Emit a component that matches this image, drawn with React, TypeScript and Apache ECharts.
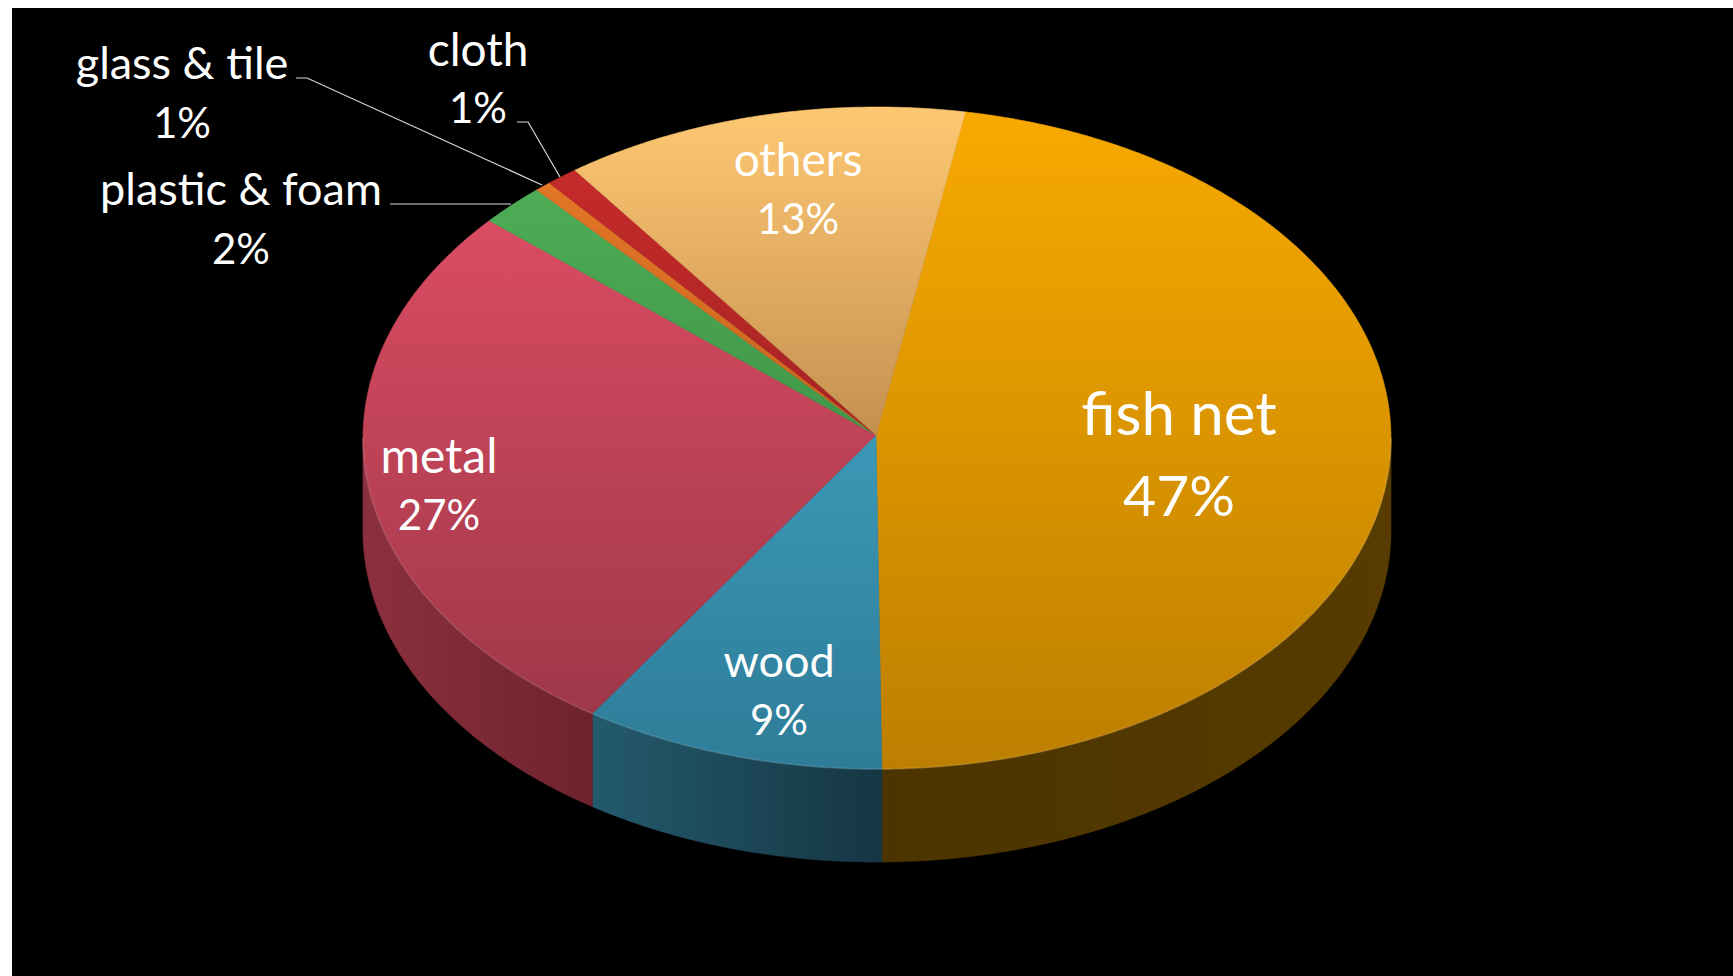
import React, { useEffect, useRef } from "react";
import * as echarts from "echarts";

// Estimated shares; labels show them rounded.
const categories = ["fish net", "wood", "metal", "plastic & foam", "glass & tile", "cloth", "others"];
const shares = [47.1, 9.49, 27.06, 2.08, 0.52, 1.0, 12.75];

const topColors = [
  ["#f8aa00", "#bd7f00"],
  ["#48b4d4", "#2e7c98"],
  ["#e85068", "#983646"],
  ["#52b45a", "#2f7838"],
  ["#ea7a28", "#a8521a"],
  ["#cc2c2c", "#801a1a"],
  ["#fec872", "#8a5830"],
];
const sideColors = [
  ["#4c3400", "#573b00"],
  ["#235a6c", "#163644"],
  ["#8c303e", "#6e222e"],
  ["#333", "#333"],
  ["#333", "#333"],
  ["#333", "#333"],
  ["#333", "#333"],
];

const nameAt = [[1179, 412], [779, 660], [439, 454], [241, 188], [182, 62], [478, 48], [798, 158]];
const pctAt = [[1179, 494], [779, 719], [439, 514], [241, 248], [182, 122], [478, 107], [798, 218]];
const nameSizes = [60, 45, 48, 45, 45, 46, 46];
const pctSizes = [57, 42, 42, 42, 42, 42, 42];
const leaders: Record<number, number[][]> = {
  3: [[390, 204], [511, 204]],
  4: [[296, 78], [307, 78], [542, 185]],
  5: [[517, 122], [528, 122], [560, 177]],
};

const START = 9.9;
const CX = 877;
const CY = 438;
const RX = 514;
const RY = 331;
const DEPTH = 93;
const APEX = [876, 435];
const TOP_Y = 107;
const BOTTOM_Y = 767;
const FONT = "Lato";

const rim = (t: number, dy = 0) => {
  const r = (t * Math.PI) / 180;
  return [CX + RX * Math.sin(r), CY - RY * Math.cos(r) + dy];
};
const arc = (a: number, b: number, dy = 0) => {
  const pts: number[][] = [];
  const n = Math.max(2, Math.ceil(Math.abs(b - a) * 2));
  for (let i = 0; i <= n; i++) pts.push(rim(a + ((b - a) * i) / n, dy));
  return pts;
};
const total = shares.reduce((s, v) => s + v, 0);

const renderItem = (params: any, api: any) => {
  const i = params.dataIndex;
  let before = 0;
  for (let k = 0; k < i; k++) before += shares[k];
  const a = START + (before / total) * 360;
  const b = a + (api.value(0) / total) * 360;
  const children: any[] = [];

  // visible outer wall: the part of the slice on the front half of the ellipse
  const s0 = Math.max(a, 90);
  const s1 = Math.min(b, 270);
  if (s1 > s0) {
    const upper = arc(s0, s1);
    const lower = arc(s1, s0, DEPTH);
    const xs = upper.map((p) => p[0]);
    const fill = {
      type: "linear",
      global: true,
      x: Math.min(...xs),
      y: 0,
      x2: Math.max(...xs),
      y2: 0,
      colorStops: [
        { offset: 0, color: sideColors[i][0] },
        { offset: 1, color: sideColors[i][1] },
      ],
    };
    children.push({
      type: "polygon",
      shape: { points: upper.concat(lower) },
      style: { fill, stroke: fill, lineWidth: 0.6 },
      z2: 1,
    });
  }

  // top face
  const topFill = {
    type: "linear",
    global: true,
    x: 0,
    y: TOP_Y,
    x2: 0,
    y2: BOTTOM_Y,
    colorStops: [
      { offset: 0, color: topColors[i][0] },
      { offset: 1, color: topColors[i][1] },
    ],
  };
  children.push({
    type: "polygon",
    shape: { points: [APEX].concat(arc(a, b)) },
    style: { fill: topFill, stroke: topFill, lineWidth: 0.6 },
    z2: 2,
  });

  // faint bevel on the front rim
  if (s1 > s0) {
    children.push({
      type: "polyline",
      shape: { points: arc(s0, s1) },
      style: { stroke: "rgba(255,255,255,0.10)", lineWidth: 2, fill: "none" },
      z2: 3,
    });
  }

  if (leaders[i]) {
    children.push({
      type: "polyline",
      shape: { points: leaders[i] },
      style: { stroke: "#d8d8d8", lineWidth: 1.2, fill: "none" },
      z2: 4,
    });
  }

  const textEl = (text: string, at: number[], size: number) => ({
    type: "text",
    x: at[0],
    y: at[1],
    style: {
      text,
      fill: "#ffffff",
      font: `${size}px ${FONT}, sans-serif`,
      align: "center",
      verticalAlign: "middle",
    },
    z2: 10,
  });
  children.push(textEl(categories[i], nameAt[i], nameSizes[i]));
  children.push(textEl(`${Math.round(api.value(0))}%`, pctAt[i], pctSizes[i]));

  return { type: "group", children };
};

export default function App() {
  const ref = useRef<HTMLDivElement>(null);
  useEffect(() => {
    const chart = echarts.init(ref.current!, undefined, { renderer: "svg" });
    chart.setOption({
      animation: false,
      backgroundColor: "#ffffff",
      graphic: [
        {
          type: "rect",
          z: -10,
          shape: { x: 12, y: 8, width: 1721, height: 968 },
          style: { fill: "#000000" },
        },
      ],
      series: [
        {
          type: "custom",
          coordinateSystem: "none",
          renderItem,
          data: shares.map((v, i) => ({ name: categories[i], value: [v] })),
          silent: true,
        },
      ],
    });
    return () => chart.dispose();
  }, []);
  return <div ref={ref} style={{ position: "fixed", left: 0, top: 0, width: 1733, height: 976 }} />;
}
